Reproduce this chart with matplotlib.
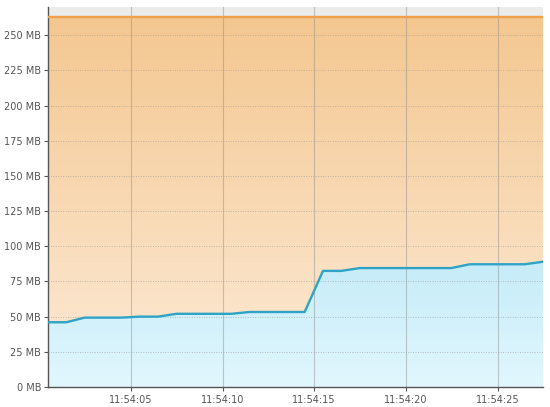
import numpy as np
import matplotlib
matplotlib.use("Agg")
import matplotlib.pyplot as plt
from matplotlib.patches import Polygon
from matplotlib.colors import to_rgb

# Data (seconds after 11:54:00, used memory in MB)
times = [0.48, 1.48, 2.48, 3.48, 4.48, 5.48, 6.48, 7.48, 8.48, 9.48, 10.48,
         11.48, 12.48, 13.48, 14.48, 15.48, 16.48, 17.48, 18.48, 19.48, 20.48,
         21.48, 22.48, 23.48, 24.48, 25.48, 26.48, 27.48]
used_mb = [46, 46, 49.3, 49.3, 49.3, 50, 50, 52, 52, 52, 52,
           53.3, 53.3, 53.3, 53.3, 82.5, 82.5, 84.5, 84.5, 84.5, 84.5,
           84.5, 84.5, 87.2, 87.2, 87.2, 87.2, 89]
total_mb = 263
y_ticks = [0, 25, 50, 75, 100, 125, 150, 175, 200, 225, 250]
y_tick_labels = [f"{v} MB" for v in y_ticks]
x_ticks = [5, 10, 15, 20, 25]
x_tick_labels = ["11:54:05", "11:54:10", "11:54:15", "11:54:20", "11:54:25"]

xmin, xmax = times[0], times[-1]
ymax = 270

fig = plt.figure(figsize=(5.5, 4.07), dpi=100)
ax = fig.add_axes([48/550, 20/407, 495/550, 380/407])
ax.set_xlim(xmin, xmax)
ax.set_ylim(0, ymax)
ax.set_facecolor("#ececec")

def vgrad(c_bottom, c_top, n=256):
    b = np.array(to_rgb(c_bottom)); t = np.array(to_rgb(c_top))
    f = np.linspace(0, 1, n)[:, None]
    return (b + (t - b) * f)[:, None, :]

# orange gradient (total memory area)
ax.imshow(vgrad("#fdebd8", "#f4c790"), extent=[xmin, xmax, 0, total_mb],
          origin="lower", aspect="auto", zorder=1, interpolation="bilinear")
# blue gradient clipped under used line
img = ax.imshow(vgrad("#e1f7fe", "#c6ecf8"), extent=[xmin, xmax, 0, max(used_mb)],
                origin="lower", aspect="auto", zorder=2, interpolation="bilinear")
verts = [(xmin, 0)] + list(zip(times, used_mb)) + [(xmax, 0)]
poly = Polygon(verts, closed=True, facecolor="none", edgecolor="none",
               transform=ax.transData)
ax.add_patch(poly)
img.set_clip_path(poly)

# grid
for xt in x_ticks:
    ax.axvline(xt, color="#8a8a8a", alpha=0.45, lw=0.8, zorder=3)
for yt in y_ticks[1:]:
    ax.axhline(yt, color="#8a8a8a", alpha=0.5, lw=0.7, ls=(0, (1, 1.5)), zorder=3)

# lines
ax.plot([xmin, xmax], [total_mb, total_mb], color="#f0a04a", lw=1.7, zorder=4)
ax.plot(times, used_mb, color="#2fa3c6", lw=1.7, zorder=4, solid_joinstyle="round")

ax.set_yticks(y_ticks)
ax.set_yticklabels(y_tick_labels)
ax.set_xticks(x_ticks)
ax.set_xticklabels(x_tick_labels)
ax.tick_params(axis="both", labelsize=7, colors="#555555", length=3, width=0.8,
               direction="out", pad=2)
ax.tick_params(axis="x", pad=3)
for s in ["top", "right"]:
    ax.spines[s].set_visible(False)
for s in ["left", "bottom"]:
    ax.spines[s].set_color("#555555")
    ax.spines[s].set_linewidth(1.0)

fig.savefig("out.png", dpi=100)
